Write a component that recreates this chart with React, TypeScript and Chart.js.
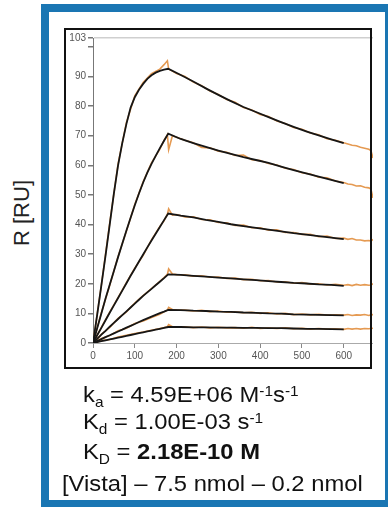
import React, { useEffect, useRef } from 'react';
import { Chart, registerables } from 'chart.js';

Chart.register(...registerables);

// ---- data ----
const fitTimes = [0, 10, 20, 30, 40, 50, 60, 70, 80, 90, 100, 110, 120, 130, 140, 150, 160, 170, 180,
  210, 240, 270, 300, 330, 360, 390, 420, 450, 480, 510, 540, 570, 600];

const fit1 = [0, 9.5, 19.5, 29.5, 40, 50.5, 60, 67.5, 74, 79.5, 83, 85.5, 87.5, 89.2, 90.4, 91.3, 91.9, 92.3, 92.6,
  90.5, 88.3, 86, 83.8, 81.7, 79.7, 78, 76.3, 74.6, 73, 71.5, 70.1, 68.8, 67.5];
const fit2 = [0, 5, 10, 15, 19.7, 24.3, 29, 33.5, 38, 42.3, 46.5, 50.5, 54.2, 57.5, 60.5, 63.2, 65.8, 68.3, 70.7,
  68.9, 67.5, 66.2, 65, 63.9, 62.8, 61.8, 60.8, 59.6, 58.4, 57.3, 56.2, 55.1, 54];
const fit3 = [0, 2.6, 5.1, 7.7, 10.2, 12.7, 15.2, 17.7, 20.2, 22.7, 25.1, 27.5, 29.9, 32.3, 34.6, 36.9, 39.2, 41.5, 43.7,
  43, 42.4, 41.6, 40.9, 40.1, 39.5, 38.9, 38.3, 37.7, 37.1, 36.6, 36.1, 35.6, 35.1];
const fit4 = [0, 1.4, 2.8, 4.1, 5.5, 6.8, 8.1, 9.4, 10.7, 12, 13.3, 14.6, 15.9, 17.1, 18.3, 19.5, 20.7, 21.9, 23.2,
  23, 22.7, 22.4, 22.1, 21.8, 21.5, 21.2, 20.9, 20.6, 20.3, 20.1, 19.8, 19.6, 19.3];
const fit5 = [0, 0.65, 1.3, 2, 2.6, 3.25, 3.9, 4.5, 5.2, 5.8, 6.4, 7.1, 7.7, 8.3, 8.9, 9.5, 10.1, 10.6, 11.2,
  11.1, 10.9, 10.8, 10.6, 10.5, 10.3, 10.2, 10, 9.9, 9.7, 9.6, 9.5, 9.4, 9.3];
const fit6 = [0, 0.3, 0.6, 0.9, 1.2, 1.5, 1.8, 2.1, 2.4, 2.7, 3, 3.3, 3.6, 3.9, 4.2, 4.5, 4.8, 5.1, 5.4,
  5.4, 5.3, 5.3, 5.2, 5.2, 5.1, 5.1, 5, 5, 4.9, 4.8, 4.8, 4.7, 4.6];

const rawTimes = [0, 20, 40, 60, 80, 100, 120, 140, 160, 170, 178, 181, 190,
  200, 220, 240, 260, 280, 300, 320, 340, 360, 380, 400, 420, 440, 460, 480, 500, 520, 540, 560, 580, 600,
  610, 620, 630, 640, 650, 660, 665, 670];

const raw1 = [0, 19.5, 40.5, 60.5, 74.5, 83.5, 88, 91, 92.5, 94, 95.3, 92.5, 91.8,
  91, 90, 88.1, 86.9, 85.1, 83.9, 82.2, 81.3, 79.5, 78.7, 77.2, 76.5, 75, 74.1, 72.8, 72.2, 70.9, 70.3, 69, 68.5, 67.6,
  67.2, 66.8, 66.6, 66.1, 65.8, 65.4, 65, 62.5];
const raw2 = [0, 10.2, 19.5, 29.2, 37.8, 46.8, 54.4, 60.8, 65.5, 68.4, 70.3, 65.3, 70,
  69.5, 68.5, 67.6, 66, 65.9, 64.8, 64.4, 63.3, 63.5, 61.9, 61.6, 60.6, 60.1, 59, 58.6, 57.5, 57.1, 56, 55.8, 54.7, 54.2,
  53.7, 53.5, 53, 53.1, 52.6, 52.4, 52, 49];
const raw3 = [0, 5.3, 10.4, 15.3, 20.4, 25.3, 29.6, 34.8, 39.4, 41.3, 43.5, 45.3, 43.2,
  43.4, 42.6, 42.6, 41.7, 41.6, 40.7, 40.6, 39.7, 39.8, 38.9, 38.9, 38.1, 38.2, 37.3, 37.3, 36.7, 36.7, 35.9, 36.1, 35.3, 35.4,
  35, 35.3, 34.8, 34.8, 34.5, 34.6, 34.4, 35];
const raw4 = [0, 2.9, 5.3, 8.3, 10.5, 13.5, 16, 18.4, 20.8, 22.1, 23.2, 25, 23.3,
  23.1, 23, 22.6, 22.7, 22.2, 22.3, 21.8, 21.9, 21.4, 21.5, 21, 21.1, 20.6, 20.7, 20.2, 20.4, 19.9, 20, 19.6, 19.8, 19.5,
  19.7, 19.4, 19.8, 19.5, 19.7, 19.5, 19.6, 20];
const raw5 = [0, 1.5, 2.5, 4.1, 5, 6.6, 7.4, 8.6, 9.7, 10.5, 11.1, 12, 11.3,
  11.2, 11.1, 10.8, 11, 10.6, 10.8, 10.4, 10.5, 10.2, 10.4, 10, 10.2, 9.8, 10, 9.6, 9.8, 9.5, 9.7, 9.4, 9.5, 9.4,
  9.6, 9.3, 9.5, 9.4, 9.6, 9.3, 9.5, 9.6];
const raw6 = [0, 0.8, 1.2, 2, 2.6, 3.2, 3.7, 4.3, 4.9, 5.2, 5.5, 6.2, 5.5,
  5.4, 5.5, 5.2, 5.4, 5.1, 5.3, 5.1, 5.2, 5, 5.3, 4.9, 5.1, 4.9, 5.1, 4.8, 5, 4.7, 4.9, 4.7, 4.8, 4.6,
  4.9, 4.7, 4.9, 4.7, 4.9, 4.8, 4.9, 5];

const yTickValues = [0, 10, 20, 30, 40, 50, 60, 70, 80, 90, 100, 103];
const yTickLabels = ['0', '10', '20', '30', '40', '50', '60', '70', '80', '90', '', '103'];
const xMin = 0;
const xMax = 670;
const yMin = 0;
const yMax = 103;

const fits = [fit1, fit2, fit3, fit4, fit5, fit6];
const raws = [raw1, raw2, raw3, raw4, raw5, raw6];

const FIT_COLOR = '#161616';
const RAW_COLOR = '#e59a52';

function ChartCanvas() {
  const ref = useRef<HTMLCanvasElement | null>(null);
  useEffect(() => {
    if (!ref.current) return;
    const datasets: any[] = [];
    fits.forEach((f) => {
      datasets.push({
        data: fitTimes.map((t, i) => ({ x: t, y: f[i] })),
        borderColor: FIT_COLOR,
        borderWidth: 1.8,
        pointRadius: 0,
        tension: 0,
        order: 0,
      });
    });
    raws.forEach((r) => {
      datasets.push({
        data: rawTimes.map((t, i) => ({ x: t, y: r[i] })),
        borderColor: RAW_COLOR,
        borderWidth: 1.6,
        pointRadius: 0,
        tension: 0,
        order: 1,
      });
    });
    const tickFont = { family: "'Liberation Sans', Arial, sans-serif", size: 10 };
    const chart = new Chart(ref.current, {
      type: 'line',
      data: { datasets },
      options: {
        animation: false,
        responsive: false,
        maintainAspectRatio: false,
        layout: { padding: { top: 8, left: 0, right: 0, bottom: 0 } },
        plugins: { legend: { display: false }, tooltip: { enabled: false } },
        scales: {
          x: {
            type: 'linear',
            min: xMin,
            max: xMax,
            ticks: { stepSize: 100, includeBounds: false, color: '#555', font: tickFont, padding: 2, maxRotation: 0 },
            grid: { drawOnChartArea: false, tickColor: '#888', tickLength: 5 },
            border: { color: '#aaa', width: 1 },
            afterFit: (s: any) => { s.height = 24; },
          },
          y: {
            type: 'linear',
            min: yMin,
            max: yMax,
            afterBuildTicks: (s: any) => { s.ticks = yTickValues.map((v) => ({ value: v })); },
            ticks: {
              color: '#555',
              font: tickFont,
              padding: 2,
              callback: (v: any) => {
                const i = yTickValues.indexOf(Number(v));
                return i >= 0 ? yTickLabels[i] : '';
              },
            },
            grid: {
              drawOnChartArea: true,
              color: (ctx: any) => (ctx.tick && ctx.tick.value === 103 ? '#cfcfcf' : 'rgba(0,0,0,0)'),
              lineWidth: 1.5,
              tickColor: '#777',
              tickLength: 5,
            },
            border: { color: '#777', width: 1 },
            afterFit: (s: any) => { s.width = 27; },
          },
        },
      },
    });
    return () => chart.destroy();
  }, []);
  return <canvas ref={ref} width={307} height={337} style={{ display: 'block' }} />;
}

const textStyle: React.CSSProperties = {
  position: 'absolute',
  fontFamily: "'Liberation Sans', Arial, sans-serif",
  fontSize: 22,
  lineHeight: '22px',
  color: '#111',
  whiteSpace: 'nowrap',
  transform: 'scaleX(1.08)',
  transformOrigin: 'left top',
};
const subStyle: React.CSSProperties = { fontSize: '0.65em', lineHeight: 0, verticalAlign: '-0.35em' };
const supStyle: React.CSSProperties = { fontSize: '0.65em', lineHeight: 0, verticalAlign: '0.45em' };

export default function App() {
  return (
    <div style={{ position: 'absolute', left: 0, top: 0, width: 388, height: 507, overflow: 'hidden', background: '#fff' }}>
      <div
        style={{
          position: 'absolute', left: 22, top: 213, transform: 'translate(-50%, -50%) rotate(-90deg)',
          fontFamily: "'Liberation Sans', Arial, sans-serif", fontSize: 22, color: '#222', whiteSpace: 'nowrap',
        }}
      >
        R [RU]
      </div>
      <div
        style={{
          position: 'absolute', left: 41, top: 4, width: 352, height: 504, border: '8px solid #1a76b3',
          boxSizing: 'border-box', background: '#fff',
        }}
      />
      <div style={{ position: 'absolute', left: 66, top: 30, width: 307, height: 337 }}>
        <ChartCanvas />
      </div>
      <div
        style={{
          position: 'absolute', left: 64, top: 28, width: 308, height: 341, border: '2px solid #111',
          boxSizing: 'border-box', pointerEvents: 'none',
        }}
      />
      <div style={{ ...textStyle, left: 83, top: 384 }}>
        k<sub style={subStyle}>a</sub> = 4.59E+06 M<sup style={supStyle}>-1</sup>s<sup style={supStyle}>-1</sup>
      </div>
      <div style={{ ...textStyle, left: 83, top: 411 }}>
        K<sub style={subStyle}>d</sub> = 1.00E-03 s<sup style={supStyle}>-1</sup>
      </div>
      <div style={{ ...textStyle, left: 83, top: 441 }}>
        K<sub style={subStyle}>D</sub> = <b>2.18E-10 M</b>
      </div>
      <div style={{ ...textStyle, left: 62, top: 473 }}>
        [Vista] – 7.5 nmol – 0.2 nmol
      </div>
    </div>
  );
}
